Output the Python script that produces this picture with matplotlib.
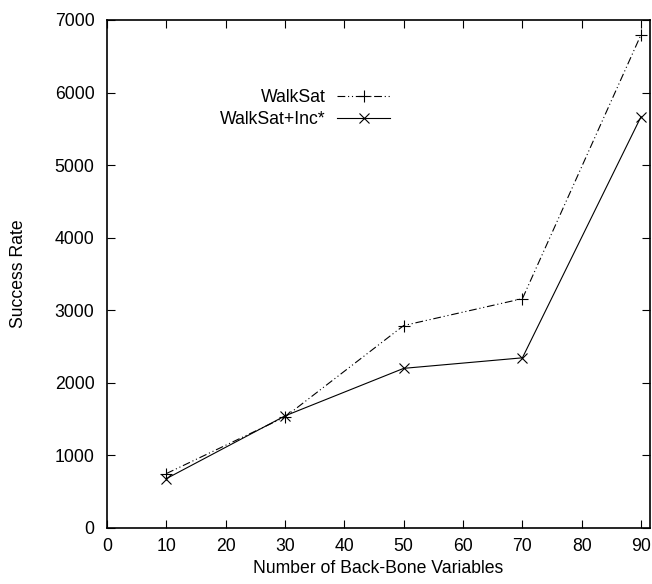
import matplotlib
matplotlib.use('Agg')
import matplotlib.pyplot as pl

# back-bone variables vs success rate
backbone = [10, 30, 50, 70, 90]
walksat = [750, 1530, 2790, 3160, 6800]
walksat_inc = [680, 1545, 2200, 2345, 5670]

xticks = [0, 10, 20, 30, 40, 50, 60, 70, 80, 90]
yticks = [0, 1000, 2000, 3000, 4000, 5000, 6000, 7000]

pl.rcParams['font.family'] = ['Liberation Sans', 'DejaVu Sans']
pl.rcParams['font.size'] = 12.7

fig = pl.figure(figsize=(6.52, 5.84), dpi=100)
ax = fig.add_axes([107/652, 1-528/584, (650-107)/652, (528-20)/584])

ax.plot(backbone, walksat, color='black', lw=0.8, marker='+', ms=8.5, mew=0.8,
        dashes=[7, 2.5, 1, 2.5, 1, 2.5], label='WalkSat')
ax.plot(backbone, walksat_inc, color='black', lw=0.8, marker='x', ms=7, mew=0.8,
        label='WalkSat+Inc*')

ax.set_xlim(0, 91.5)
ax.set_ylim(0, 7000)
ax.set_xticks(xticks)
ax.set_yticks(yticks)
ax.tick_params(direction='in', length=6, width=0.8, top=True, right=True)
ax.tick_params(axis='x', pad=7)
ax.tick_params(axis='y', pad=9)
for s in ax.spines.values():
    s.set_linewidth(1.2)

ax.set_xlabel('Number of Back-Bone Variables', labelpad=4)
ax.set_ylabel('Success Rate', labelpad=20)

ax.legend(loc='center right', bbox_to_anchor=(390/652, 1-108.5/584),
          bbox_transform=fig.transFigure, frameon=False, markerfirst=False,
          handlelength=3.0, handletextpad=0.65, labelspacing=0.25,
          borderpad=0, borderaxespad=0)

pl.savefig('out.png', dpi=100)
